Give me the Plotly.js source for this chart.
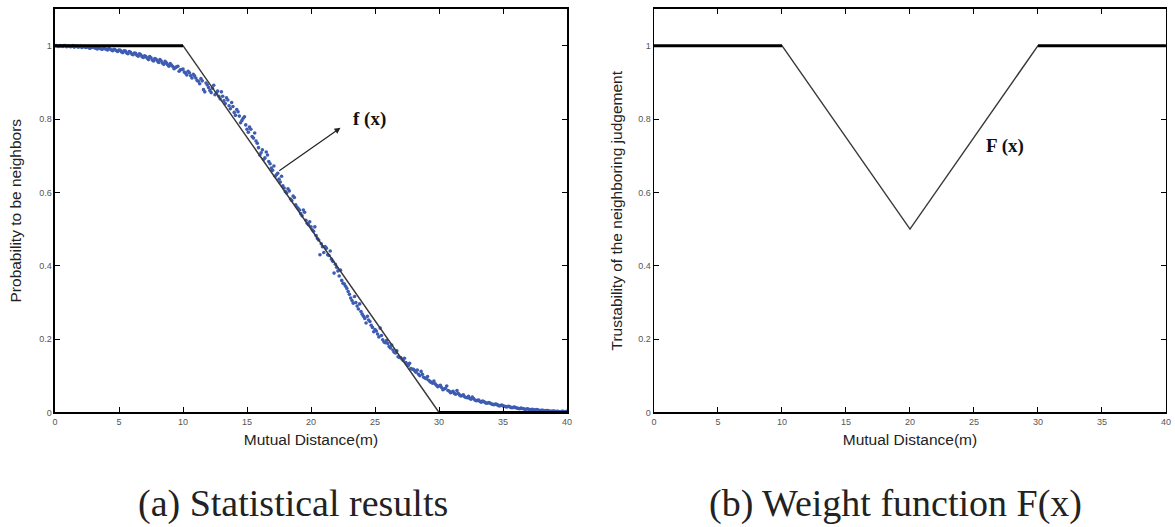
<!DOCTYPE html>
<html>
<head>
<meta charset="utf-8">
<script src="https://cdn.plot.ly/plotly-3.0.1.min.js"></script>
<style>
html,body{margin:0;padding:0;background:#fff;}
#chart{width:1175px;height:527px;}
</style>
</head>
<body>
<div id="chart"></div>
<script>
// ---- Data ----
var distance = [0.0,0.2,0.4,0.6,0.8,1.0,1.2,1.4,1.6,1.8,2.0,2.2,2.4,2.6,2.8,3.0,3.2,3.4,3.6,3.8,4.0,4.2,4.4,4.6,4.8,5.0,5.2,5.4,5.6,5.8,6.0,6.2,6.4,6.6,6.8,7.0,7.2,7.4,7.6,7.8,8.0,8.2,8.4,8.6,8.8,9.0,9.2,9.4,9.6,9.8,10.0,10.2,10.4,10.6,10.8,11.0,11.2,11.4,11.6,11.8,12.0,12.2,12.4,12.6,12.8,13.0,13.2,13.4,13.6,13.8,14.0,14.2,14.4,14.6,14.8,15.0,15.2,15.4,15.6,15.8,16.0,16.2,16.4,16.6,16.8,17.0,17.2,17.4,17.6,17.8,18.0,18.2,18.4,18.6,18.8,19.0,19.2,19.4,19.6,19.8,20.0,20.2,20.4,20.6,20.8,21.0,21.2,21.4,21.6,21.8,22.0,22.2,22.4,22.6,22.8,23.0,23.2,23.4,23.6,23.8,24.0,24.2,24.4,24.6,24.8,25.0,25.2,25.4,25.6,25.8,26.0,26.2,26.4,26.6,26.8,27.0,27.2,27.4,27.6,27.8,28.0,28.2,28.4,28.6,28.8,29.0,29.2,29.4,29.6,29.8,30.0,30.2,30.4,30.6,30.8,31.0,31.2,31.4,31.6,31.8,32.0,32.2,32.4,32.6,32.8,33.0,33.2,33.4,33.6,33.8,34.0,34.2,34.4,34.6,34.8,35.0,35.2,35.4,35.6,35.8,36.0,36.2,36.4,36.6,36.8,37.0,37.2,37.4,37.6,37.8,38.0,38.2,38.4,38.6,38.8,39.0,39.2,39.4,39.6,39.8,40.0];
var probability = [1.000,0.999,1.000,0.998,1.000,0.999,0.997,1.000,0.998,0.996,0.999,0.997,0.995,0.998,0.994,0.996,0.993,0.995,0.991,0.994,0.990,0.992,0.988,0.990,0.986,0.988,0.983,0.986,0.980,0.984,0.977,0.980,0.974,0.978,0.970,0.972,0.966,0.970,0.961,0.965,0.958,0.962,0.952,0.957,0.948,0.951,0.943,0.940,0.944,0.934,0.936,0.925,0.930,0.918,0.922,0.912,0.903,0.910,0.880,0.898,0.886,0.872,0.892,0.870,0.862,0.874,0.850,0.858,0.836,0.845,0.818,0.826,0.808,0.796,0.806,0.772,0.778,0.752,0.762,0.734,0.702,0.716,0.694,0.702,0.678,0.660,0.644,0.652,0.628,0.618,0.602,0.610,0.582,0.590,0.566,0.556,0.542,0.552,0.524,0.512,0.506,0.494,0.482,0.470,0.460,0.436,0.448,0.428,0.418,0.380,0.396,0.372,0.360,0.350,0.338,0.322,0.305,0.316,0.290,0.296,0.268,0.256,0.262,0.248,0.232,0.226,0.214,0.230,0.198,0.190,0.188,0.176,0.170,0.162,0.152,0.150,0.142,0.136,0.128,0.120,0.118,0.110,0.104,0.112,0.096,0.092,0.088,0.082,0.086,0.074,0.072,0.068,0.064,0.072,0.058,0.056,0.052,0.060,0.048,0.046,0.043,0.040,0.038,0.042,0.034,0.033,0.030,0.031,0.027,0.026,0.025,0.022,0.023,0.020,0.019,0.018,0.016,0.017,0.014,0.014,0.013,0.011,0.012,0.010,0.009,0.009,0.008,0.007,0.008,0.006,0.006,0.005,0.005,0.004,0.003,0.004,0.003,0.002,0.003,0.002,0.004];
// second batch of samples, at the odd tenths
var distance2 = [0.1,0.3,0.5,0.7,0.9,1.1,1.3,1.5,1.7,1.9,2.1,2.3,2.5,2.7,2.9,3.1,3.3,3.5,3.7,3.9,4.1,4.3,4.5,4.7,4.9,5.1,5.3,5.5,5.7,5.9,6.1,6.3,6.5,6.7,6.9,7.1,7.3,7.5,7.7,7.9,8.1,8.3,8.5,8.7,8.9,9.1,9.3,9.5,9.7,9.9,10.1,10.3,10.5,10.7,10.9,11.1,11.3,11.5,11.7,11.9,12.1,12.3,12.5,12.7,12.9,13.1,13.3,13.5,13.7,13.9,14.1,14.3,14.5,14.7,14.9,15.1,15.3,15.5,15.7,15.9,16.1,16.3,16.5,16.7,16.9,17.1,17.3,17.5,17.7,17.9,18.1,18.3,18.5,18.7,18.9,19.1,19.3,19.5,19.7,19.9,20.1,20.3,20.5,20.7,20.9,21.1,21.3,21.5,21.7,21.9,22.1,22.3,22.5,22.7,22.9,23.1,23.3,23.5,23.7,23.9,24.1,24.3,24.5,24.7,24.9,25.1,25.3,25.5,25.7,25.9,26.1,26.3,26.5,26.7,26.9,27.1,27.3,27.5,27.7,27.9,28.1,28.3,28.5,28.7,28.9,29.1,29.3,29.5,29.7,29.9,30.1,30.3,30.5,30.7,30.9,31.1,31.3,31.5,31.7,31.9,32.1,32.3,32.5,32.7,32.9,33.1,33.3,33.5,33.7,33.9,34.1,34.3,34.5,34.7,34.9,35.1,35.3,35.5,35.7,35.9,36.1,36.3,36.5,36.7,36.9,37.1,37.3,37.5,37.7,37.9,38.1,38.3,38.5,38.7,38.9,39.1,39.3,39.5,39.7,39.9];
var probability2 = [1.000,0.998,0.999,1.000,0.997,0.999,0.998,0.996,0.999,0.997,0.995,0.998,0.996,0.993,0.996,0.994,0.991,0.993,0.990,0.992,0.988,0.991,0.986,0.989,0.984,0.987,0.981,0.985,0.978,0.982,0.975,0.979,0.971,0.975,0.968,0.970,0.962,0.967,0.958,0.963,0.954,0.958,0.949,0.953,0.944,0.947,0.937,0.942,0.930,0.935,0.928,0.920,0.926,0.912,0.918,0.905,0.896,0.904,0.874,0.893,0.878,0.884,0.866,0.876,0.855,0.862,0.842,0.852,0.828,0.834,0.810,0.820,0.790,0.802,0.784,0.764,0.772,0.748,0.740,0.722,0.708,0.690,0.710,0.684,0.666,0.672,0.648,0.636,0.644,0.612,0.598,0.604,0.578,0.586,0.560,0.552,0.536,0.546,0.516,0.520,0.498,0.506,0.474,0.430,0.452,0.452,0.430,0.440,0.412,0.404,0.386,0.388,0.352,0.344,0.330,0.312,0.298,0.300,0.282,0.275,0.262,0.244,0.252,0.238,0.220,0.222,0.206,0.210,0.192,0.196,0.180,0.184,0.164,0.168,0.150,0.146,0.148,0.132,0.134,0.118,0.114,0.116,0.100,0.104,0.094,0.098,0.084,0.080,0.078,0.070,0.074,0.062,0.066,0.060,0.054,0.058,0.050,0.052,0.045,0.048,0.041,0.044,0.036,0.038,0.032,0.034,0.028,0.030,0.025,0.027,0.023,0.021,0.022,0.018,0.020,0.017,0.015,0.016,0.013,0.015,0.012,0.010,0.011,0.009,0.010,0.008,0.009,0.006,0.007,0.005,0.006,0.004,0.005,0.003,0.004,0.002,0.003,0.001,0.003,0.002];

// f(x): piecewise-linear fit
var fX = [0, 10, 30, 40];
var fY = [1, 1, 0, 0];
// F(x): weight function
var wX = [0, 10, 20, 30, 40];
var wY = [1, 1, 0.5, 1, 1];

var xTicks = [0, 5, 10, 15, 20, 25, 30, 35, 40];
var yTicks = [0, 0.2, 0.4, 0.6, 0.8, 1];
var yTickText = ['0', '0.2', '0.4', '0.6', '0.8', '1'];

var leftYTitle = 'Probability to be neighbors';
var rightYTitle = 'Trustability of the neighboring judgement';
var xTitle = 'Mutual Distance(m)';
var captionA = '(a) Statistical results';
var captionB = '(b) Weight function F(x)';

// ---- Traces ----
var dotStyle = {color: '#3d5cb2', size: 3.6};
var traces = [
  {x: distance, y: probability, xaxis: 'x', yaxis: 'y', type: 'scatter', mode: 'markers',
   marker: dotStyle, cliponaxis: false},
  {x: distance2, y: probability2, xaxis: 'x', yaxis: 'y', type: 'scatter', mode: 'markers',
   marker: dotStyle, cliponaxis: false},
  {x: fX, y: fY, xaxis: 'x', yaxis: 'y', type: 'scatter', mode: 'lines',
   line: {color: '#3a3a3a', width: 1.5}, cliponaxis: false},
  {x: fX.slice(0, 2), y: fY.slice(0, 2), xaxis: 'x', yaxis: 'y', type: 'scatter', mode: 'lines',
   line: {color: '#000', width: 3}, cliponaxis: false},
  {x: fX.slice(2), y: fY.slice(2), xaxis: 'x', yaxis: 'y', type: 'scatter', mode: 'lines',
   line: {color: '#000', width: 3}, cliponaxis: false},
  {x: wX, y: wY, xaxis: 'x2', yaxis: 'y2', type: 'scatter', mode: 'lines',
   line: {color: '#3a3a3a', width: 1.5}, cliponaxis: false},
  {x: wX.slice(0, 2), y: wY.slice(0, 2), xaxis: 'x2', yaxis: 'y2', type: 'scatter', mode: 'lines',
   line: {color: '#000', width: 3}, cliponaxis: false},
  {x: wX.slice(3), y: wY.slice(3), xaxis: 'x2', yaxis: 'y2', type: 'scatter', mode: 'lines',
   line: {color: '#000', width: 3}, cliponaxis: false}
];

function xAxis(domain, anchor) {
  return {
    domain: domain, anchor: anchor, range: [0, 40],
    tickmode: 'array', tickvals: xTicks, ticktext: xTicks.map(String),
    ticks: 'inside', ticklen: 5, tickwidth: 1, tickcolor: '#000',
    showline: true, linecolor: '#000', linewidth: 1.5, mirror: 'ticks',
    showgrid: false, zeroline: false,
    tickfont: {family: 'Liberation Sans, Arial', size: 9, color: '#555'},
    title: {text: xTitle, font: {family: 'Liberation Sans, Arial', size: 15.5, color: '#222'}, standoff: 8}
  };
}
function yAxis(domain, anchor, title, standoff) {
  return {
    domain: domain, anchor: anchor, range: [0, 1.1],
    tickmode: 'array', tickvals: yTicks, ticktext: yTickText,
    ticks: 'inside', ticklen: 5, tickwidth: 1, tickcolor: '#000',
    showline: true, linecolor: '#000', linewidth: 1.5, mirror: 'ticks',
    showgrid: false, zeroline: false,
    tickfont: {family: 'Liberation Sans, Arial', size: 9, color: '#555'},
    title: {text: title, font: {family: 'Liberation Sans, Arial', size: 15.5, color: '#222'}, standoff: standoff}
  };
}

var yDom = [0.2173, 0.983];
var layout = {
  width: 1175, height: 527,
  margin: {l: 0, r: 0, t: 0, b: 0},
  paper_bgcolor: '#fff', plot_bgcolor: '#fff',
  showlegend: false,
  xaxis: xAxis([0.0468, 0.4826], 'y'),
  yaxis: yAxis(yDom, 'x', leftYTitle, 13),
  xaxis2: xAxis([0.5566, 0.9923], 'y2'),
  yaxis2: yAxis(yDom, 'x2', rightYTitle, 12),
  annotations: [
    {xref: 'x', yref: 'y', x: 22.3, y: 0.776, axref: 'x', ayref: 'y', ax: 17.4, ay: 0.656,
     text: '', showarrow: true, arrowhead: 2, arrowsize: 1, arrowwidth: 1.2, arrowcolor: '#222'},
    {xref: 'x', yref: 'y', x: 24.6, y: 0.80, text: '<b>f (x)</b>', showarrow: false,
     xanchor: 'center', yanchor: 'middle',
     font: {family: 'Liberation Serif, Times New Roman', size: 19, color: '#111'}},
    {xref: 'x2', yref: 'y2', x: 27.4, y: 0.727, text: '<b>F (x)</b>', showarrow: false,
     xanchor: 'center', yanchor: 'middle',
     font: {family: 'Liberation Serif, Times New Roman', size: 19, color: '#111'}},
    {xref: 'paper', yref: 'paper', x: 293 / 1175, y: 1 - 503 / 527, text: captionA, showarrow: false,
     xanchor: 'center', yanchor: 'middle',
     font: {family: 'Liberation Serif, Times New Roman', size: 38, color: '#222'}},
    {xref: 'paper', yref: 'paper', x: 895 / 1175, y: 1 - 503 / 527, text: captionB, showarrow: false,
     xanchor: 'center', yanchor: 'middle',
     font: {family: 'Liberation Serif, Times New Roman', size: 38, color: '#222'}}
  ]
};

Plotly.newPlot('chart', traces, layout, {staticPlot: true, displayModeBar: false});
</script>
</body>
</html>
